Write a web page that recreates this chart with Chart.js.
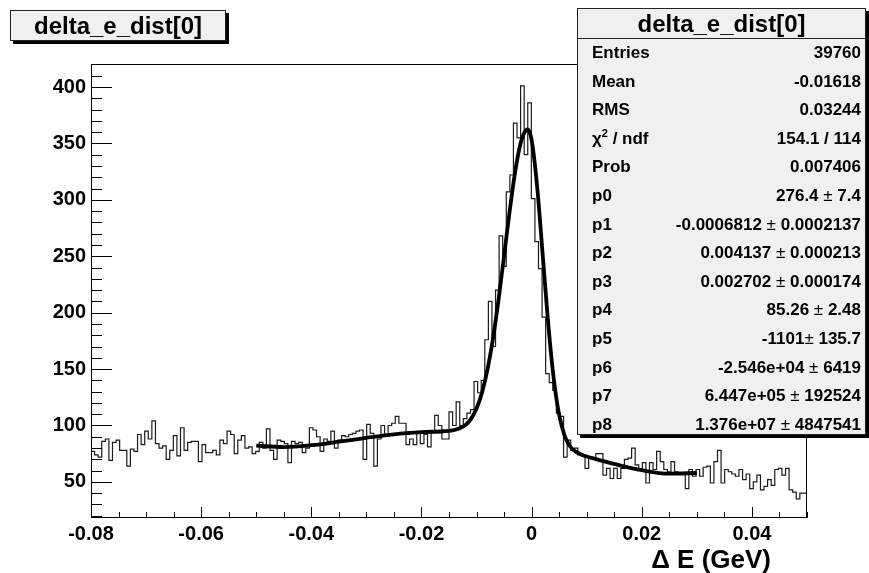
<!DOCTYPE html>
<html>
<head>
<meta charset="utf-8">
<script src="https://cdn.jsdelivr.net/npm/chart.js@4.4.1/dist/chart.umd.min.js"></script>
<style>
  body { margin: 0; background: #fff; font-family: "Liberation Sans", Arial, Helvetica, sans-serif; }
  #wrap { position: relative; width: 869px; height: 573px; }
  .pave { position: absolute; box-sizing: border-box; background: #f0f0f0; border: 1px solid #222; box-shadow: 3px 3px 0 #000; font-weight: bold; color: #000; }
  #title { left: 10px; top: 10px; width: 216px; height: 31px; font-size: 24px; line-height: 29px; text-align: center; }
  #stats { left: 577px; top: 8px; width: 289px; height: 427px; }
  #stats .head { height: 29px; line-height: 29px; font-size: 24px; text-align: center; border-bottom: 1px solid #222; }
  #stats .row { height: 28.6px; line-height: 28.6px; font-size: 17px; padding: 0 4px 0 14px; display: flex; justify-content: space-between; }
  #stats .pm { font-weight: normal; }
  #stats .sup { font-size: 11px; position: relative; top: -7px; line-height: 0; }
  #xtitle { position: absolute; right: 98px; top: 544px; font-size: 26px; font-weight: bold; line-height: 30px; white-space: pre; }
</style>
</head>
<body>
<div id="wrap">
  <canvas id="deltaEChart" width="869" height="573"></canvas>
  <div id="title" class="pave">delta_e_dist[0]</div>
  <div id="stats" class="pave"><div class="head">delta_e_dist[0]</div></div>
  <div id="xtitle">Δ E (GeV)</div>
</div>
<script>
// histogram definition
var xMin = -0.08, xMax = 0.05, nBins = 200;
var yMin = 18, yMax = 420.4;

// bin contents
var binCounts = [
  80, 77, 74, 72, 86, 88, 69, 85, 87, 78, 78, 64, 79, 77, 92, 83, 95, 88, 104, 84,
  80, 82, 70, 78, 91, 73, 98, 78, 85, 86, 86, 68, 83, 76, 76, 78, 74, 87, 84, 95,
  92, 75, 87, 91, 80, 81, 75, 77, 85, 80, 97, 78, 70, 87, 86, 84, 67, 86, 84, 85,
  76, 80, 98, 96, 90, 77, 88, 86, 95, 80, 87, 91, 90, 92, 93, 95, 96, 70, 101, 93,
  64, 88, 100, 92, 100, 102, 108, 102, 102, 83, 88, 83, 94, 84, 92, 81, 94, 109, 100, 88,
  88, 112, 100, 121, 100, 106, 111, 114, 139, 129, 140, 176, 210, 170, 220, 268, 241, 307, 322, 368,
  355, 401, 340, 386, 301, 263, 239, 196, 146, 138, 131, 111, 108, 72, 87, 78, 80, 74, 73, 62,
  72, 70, 75, 75, 56, 62, 53, 62, 53, 62, 70, 71, 80, 65, 61, 67, 49, 67, 61, 77,
  68, 61, 59, 68, 59, 58, 58, 44, 61, 55, 61, 55, 63, 64, 49, 68, 78, 49, 61, 59,
  57, 55, 61, 52, 57, 44, 50, 56, 43, 46, 52, 47, 61, 62, 56, 62, 43, 41, 35, 40
];

// fit curve
var fitX = [-0.05, -0.045, -0.04, -0.035, -0.03, -0.025, -0.02, -0.016, -0.014, -0.012,
  -0.011, -0.01, -0.009, -0.008, -0.007, -0.006, -0.005, -0.004, -0.003, -0.002,
  -0.001, -0.0007, 0, 0.001, 0.002, 0.003, 0.004, 0.005, 0.006, 0.007,
  0.008, 0.009, 0.01, 0.012, 0.015, 0.02, 0.025, 0.03];
var fitY = [82.1, 80.9, 82.5, 85.6, 89.1, 92.2, 94.1, 94.9, 96.0, 100.5,
  105.9, 115.1, 129.3, 150.0, 177.5, 211.7, 250.4, 289.5, 324.5, 350.1,
  361.9, 362.4, 353.1, 311.9, 252.0, 191.1, 142.2, 109.5, 90.9, 81.4,
  76.8, 74.3, 72.5, 69.8, 65.9, 60.4, 57.3, 57.9];

// axis ticks
var xTickValues = [-0.08, -0.06, -0.04, -0.02, 0, 0.02, 0.04];
var xTickLabels = ['-0.08', '-0.06', '-0.04', '-0.02', '0', '0.02', '0.04'];
var yTickValues = [50, 100, 150, 200, 250, 300, 350, 400];

// stats box
var statLabels = ['Entries', 'Mean', 'RMS', 'χ<span class="sup">2</span> / ndf', 'Prob',
  'p0', 'p1', 'p2', 'p3', 'p4', 'p5', 'p6', 'p7', 'p8'];
var statValues = ['39760', '-0.01618', '0.03244', '154.1 / 114', '0.007406',
  '276.4 ± 7.4', '-0.0006812 ± 0.0002137', '0.004137 ± 0.000213', '0.002702 ± 0.000174',
  '85.26 ± 2.48', '-1101± 135.7', '-2.546e+04 ± 6419', '6.447e+05 ± 192524', '1.376e+07 ± 4847541'];

var statsBox = document.getElementById('stats');
statLabels.forEach(function (lab, i) {
  var row = document.createElement('div');
  row.className = 'row';
  var val = statValues[i].replace('±', '<span class="pm">±</span>');
  row.innerHTML = '<span>' + lab + '</span><span>' + val + '</span>';
  statsBox.appendChild(row);
});

var binWidth = (xMax - xMin) / nBins;
var histPoints = binCounts.map(function (v, i) { return {x: xMin + i * binWidth, y: v}; });
histPoints.push({x: xMax, y: binCounts[nBins - 1]});
var fitPoints = fitX.map(function (x, i) { return {x: x, y: fitY[i]}; });

var fontFamily = '"Liberation Sans", Arial, Helvetica, sans-serif';

// frame box and inward ticks, ROOT style
var frameTicks = {
  id: 'frameTicks',
  afterDatasetsDraw: function (chart) {
    var ctx = chart.ctx, a = chart.chartArea, xs = chart.scales.x, ys = chart.scales.y;
    ctx.save();
    ctx.strokeStyle = '#000';
    ctx.lineWidth = 1;
    ctx.strokeRect(a.left + 0.5, a.top + 0.5, a.right - a.left - 1, a.bottom - a.top - 1);
    ctx.beginPath();
    for (var k = 0; k <= 26; k++) {
      var px = Math.round(xs.getPixelForValue(xMin + k * 0.005)) + 0.5;
      var len = (k % 4 === 0) ? 11 : 6;
      ctx.moveTo(px, a.bottom);
      ctx.lineTo(px, a.bottom - len);
    }
    for (var v = 20; v <= 420; v += 10) {
      var py = Math.round(ys.getPixelForValue(v)) + 0.5;
      var l = (v % 50 === 0) ? 21 : 11;
      ctx.moveTo(a.left, py);
      ctx.lineTo(a.left + l, py);
    }
    ctx.stroke();
    ctx.restore();
  }
};

var ctx = document.getElementById('deltaEChart').getContext('2d');
var deltaEChart = new Chart(ctx, {
  type: 'line',
  data: {
    datasets: [{
      label: 'fit',
      data: fitPoints,
      borderColor: '#000',
      borderWidth: 3.8,
      pointRadius: 0,
      cubicInterpolationMode: 'monotone',
      fill: false
    }, {
      label: 'delta_e_dist[0]',
      data: histPoints,
      borderColor: '#1a1a1a',
      borderWidth: 1.2,
      pointRadius: 0,
      stepped: 'after',
      fill: false
    }]
  },
  options: {
    responsive: false,
    animation: false,
    devicePixelRatio: 1,
    layout: { padding: { top: 64, right: 62, left: 0, bottom: 0 } },
    plugins: { legend: { display: false }, tooltip: { enabled: false } },
    scales: {
      x: {
        type: 'linear',
        min: xMin,
        max: xMax,
        grid: { display: false, drawTicks: false },
        border: { display: false },
        afterBuildTicks: function (s) { s.ticks = xTickValues.map(function (v) { return {value: v}; }); },
        afterFit: function (s) { s.height = 55; },
        ticks: {
          autoSkip: false,
          maxRotation: 0,
          padding: 4,
          color: '#000',
          font: { family: fontFamily, size: 20, weight: 'bold' },
          callback: function (v, i) { return xTickLabels[i]; }
        }
      },
      y: {
        min: yMin,
        max: yMax,
        grid: { display: false, drawTicks: false },
        border: { display: false },
        afterBuildTicks: function (s) { s.ticks = yTickValues.map(function (v) { return {value: v}; }); },
        afterFit: function (s) { s.width = 91; },
        ticks: {
          padding: 5,
          color: '#000',
          font: { family: fontFamily, size: 20, weight: 'bold' }
        }
      }
    }
  },
  plugins: [frameTicks]
});
</script>
</body>
</html>
